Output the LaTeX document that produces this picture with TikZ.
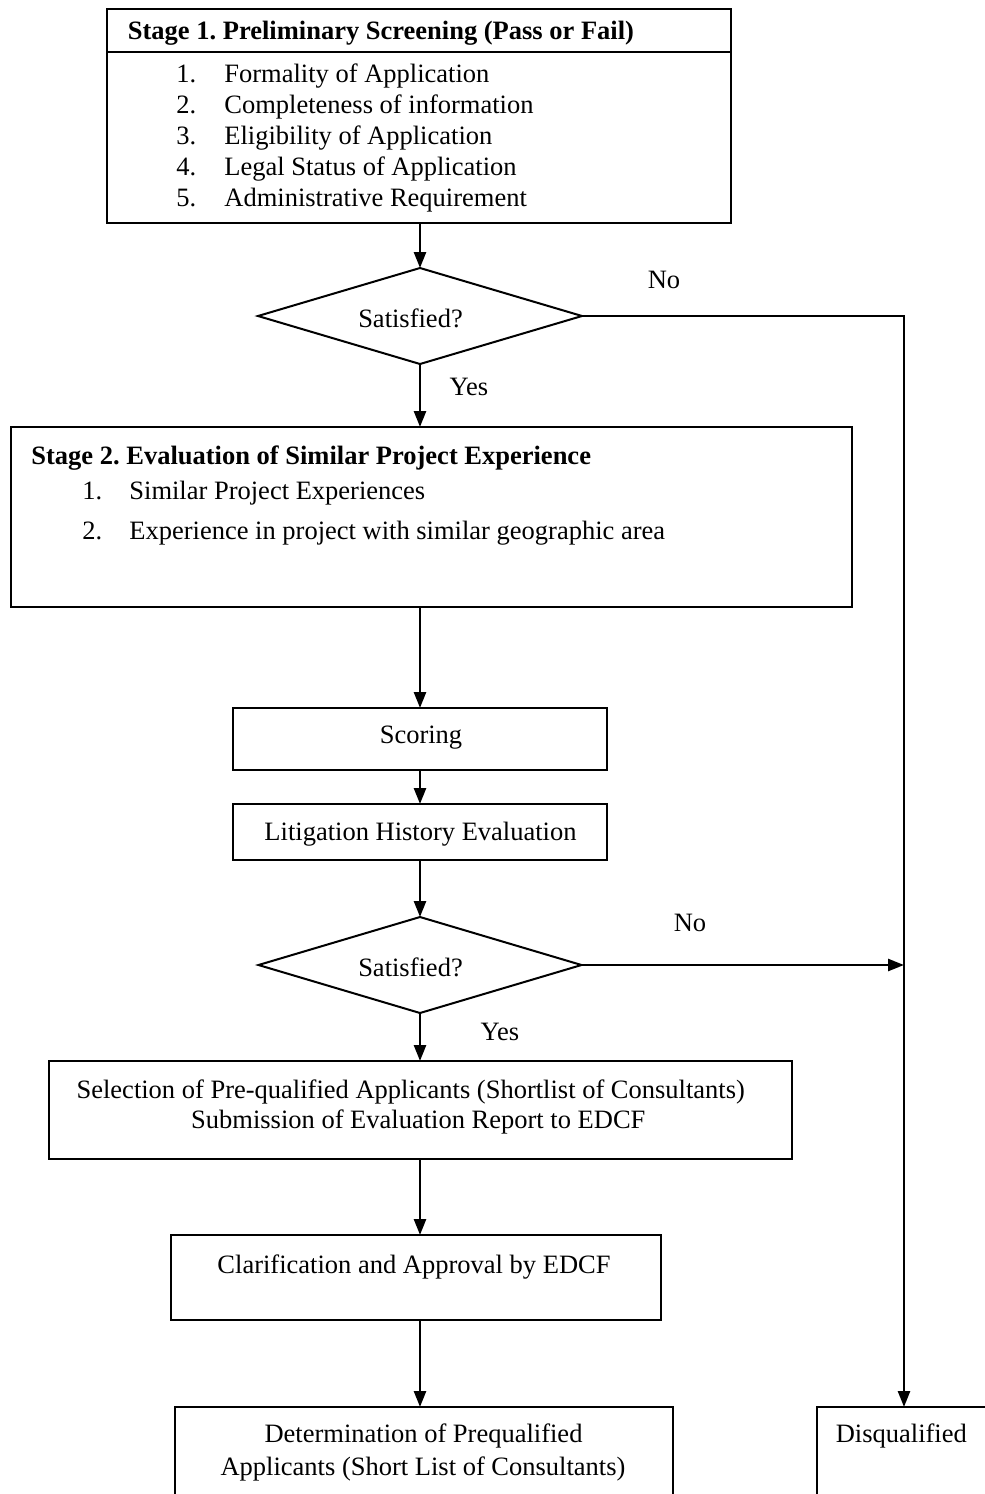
\documentclass[tikz,border=0pt]{standalone}
\usepackage{fontspec}
\setmainfont{Liberation Serif}
\usetikzlibrary{shapes.geometric,arrows.meta}
\newcommand\myfs{\fontsize{13.25}{15.5}\selectfont\frenchspacing}
\begin{document}
\begin{tikzpicture}[x=0.5pt,y=-0.5pt,
  box/.style={draw,line width=1pt,inner sep=0,outer sep=0},
  dia/.style={draw,diamond,line width=1pt,inner sep=0,outer sep=0},
  arr/.style={line width=1.3pt,-{Triangle[length=8pt,width=6pt]}},
  txt/.style={anchor=base,inner sep=0,font=\myfs},
  txtw/.style={anchor=base west,inner sep=0,font=\myfs},
  bold/.style={font=\myfs\bfseries}
]
\useasboundingbox (0,0) rectangle (985,1494);
\clip (0,0) rectangle (985,1494);

% Stage 1
\node[box,minimum width=311.75pt,minimum height=107pt] (s1) at (418.75,116) {};
\draw[line width=1pt] (s1.west |- 0,52) -- (s1.east |- 0,52);
\node[txtw,bold] (s1t) at (127.5,39) {Stage 1.\ Preliminary Screening (Pass or Fail)};
\foreach \n/\y/\t in {1/82/Formality of Application,2/113/Completeness of information,3/144/Eligibility of Application,4/175/Legal Status of Application,5/206/Administrative Requirement}{
  \node[txtw] (s1n\n) at (176,\y) {\n.};
  \node[txtw] (s1i\n) at (224,\y) {\t};
}

% Decision 1
\node[dia,minimum width=162pt,minimum height=48pt] (d1) at (420,316) {};
\node[txt] (sat1) at (410.5,327) {Satisfied?};
\node[txt] (no1) at (664,288) {No};
\node[txt] (yes1) at (469,395) {Yes};

% Stage 2
\node[box,minimum width=420.5pt,minimum height=90pt] (s2) at (431.5,517) {};
\node[txtw,bold] (s2t) at (31,464) {Stage 2.\ Evaluation of Similar Project Experience};
\node[txtw] (s2n1) at (82,499) {1.};
\node[txtw] (s2i1) at (129,499) {Similar Project Experiences};
\node[txtw] (s2n2) at (82,539) {2.};
\node[txtw] (s2i2) at (129,539) {Experience in project with similar geographic area};

% Scoring and litigation
\node[box,minimum width=187pt,minimum height=31pt] (sc) at (420,739) {};
\node[txt] (sct) at (421,743) {Scoring};
\node[box,minimum width=187pt,minimum height=28pt] (li) at (420,832) {};
\node[txt] (lit) at (420.5,840) {Litigation History Evaluation};

% Decision 2
\node[dia,minimum width=161.5pt,minimum height=48pt] (d2) at (420,965) {};
\node[txt] (sat2) at (410.5,976) {Satisfied?};
\node[txt] (no2) at (690,931) {No};
\node[txt] (yes2) at (500,1040) {Yes};

% Selection
\node[box,minimum width=371.25pt,minimum height=49pt] (se) at (420.25,1110) {};
\node[txt] (se1) at (410.75,1098) {Selection of Pre-qualified Applicants (Shortlist of Consultants)};
\node[txt] (se2) at (418.3,1128) {Submission of Evaluation Report to EDCF};

% Clarification
\node[box,minimum width=245pt,minimum height=42.5pt] (cl) at (416,1277.5) {};
\node[txt] (clt) at (414,1273) {Clarification and Approval by EDCF};

% Determination
\node[box,minimum width=249.2pt,minimum height=60pt] (de) at (423.8,1467) {};
\node[txt] (de1) at (423.5,1442) {Determination of Prequalified};
\node[txt] (de2) at (423,1475) {Applicants (Short List of Consultants)};

% Disqualified
\node[box,minimum width=87.5pt,minimum height=60pt] (dq) at (904,1467) {};
\node[txtw] (dqt) at (835.4,1442) {Disqualified};

% Connectors
\draw[arr] (d1.north |- s1.south) -- (d1.north);
\draw[arr] (d1.south) -- (d1.south |- s2.north);
\draw[arr] (sc.north |- s2.south) -- (sc.north);
\draw[arr] (sc.south) -- (li.north);
\draw[arr] (li.south) -- (d2.north);
\draw[arr] (d2.south) -- (d2.south |- se.north);
\draw[arr] (d2.south |- se.south) -- (d2.south |- cl.north);
\draw[arr] (d2.south |- cl.south) -- (d2.south |- de.north);
\draw[arr] (d1.east) -| (dq.north);
\draw[arr] (d2.east) -- (d2.east -| dq.north);
\end{tikzpicture}
\end{document}
